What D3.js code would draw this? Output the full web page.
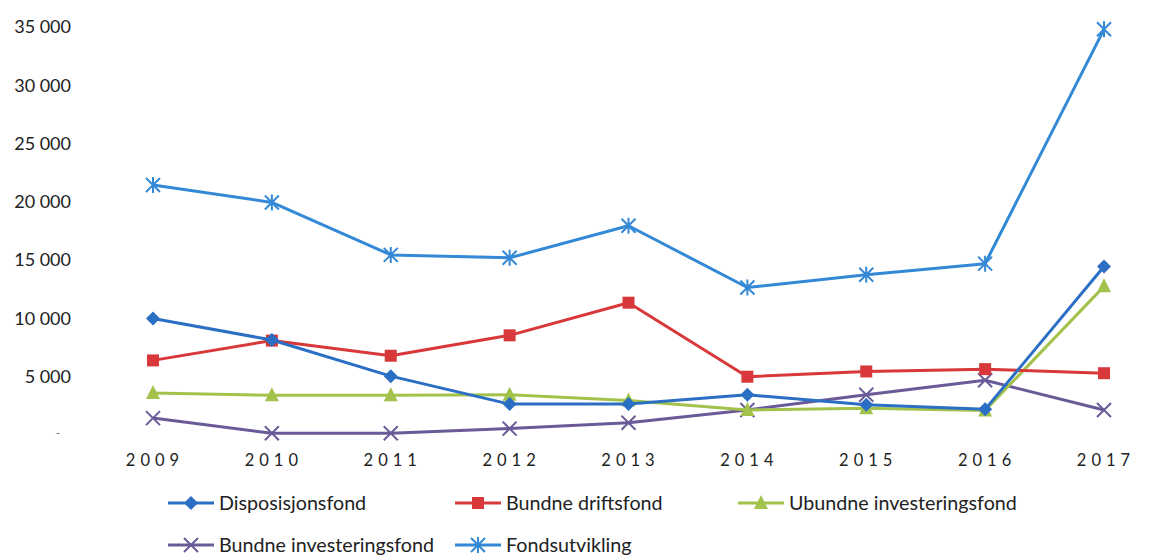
<!DOCTYPE html>
<html><head><meta charset="utf-8">
<script src="https://cdn.jsdelivr.net/npm/d3@7"></script>
<style>
body{margin:0;background:#fff;}
svg{display:block;}
</style></head>
<body>
<svg id="c" width="1149" height="555"></svg>
<script>
const years = ["2009","2010","2011","2012","2013","2014","2015","2016","2017"];
const yTicks = [0,5000,10000,15000,20000,25000,30000,35000];
const disposisjonsfond = [10000,8150,5050,2650,2650,3450,2600,2200,14450];
const bundneDriftsfond = [6400,8100,6800,8550,11350,5000,5450,5650,5300];
const ubundneInvesteringsfond = [3600,3400,3400,3450,2950,2150,2300,2100,12750];
const bundneInvesteringsfond = [1450,150,150,550,1050,2150,3450,4700,2150];
const fondsutvikling = [21450,19950,15450,15200,17950,12650,13750,14700,34800];
const seriesNames = ["Disposisjonsfond","Bundne driftsfond","Ubundne investeringsfond","Bundne investeringsfond","Fondsutvikling"];

const series = [
  {name:seriesNames[0], values:disposisjonsfond, color:"#2a6fc4", marker:"diamond"},
  {name:seriesNames[1], values:bundneDriftsfond, color:"#d9383a", marker:"square"},
  {name:seriesNames[2], values:ubundneInvesteringsfond, color:"#a3c24c", marker:"triangle"},
  {name:seriesNames[3], values:bundneInvesteringsfond, color:"#6a5a98", marker:"x"},
  {name:seriesNames[4], values:fondsutvikling, color:"#3389d6", marker:"star"}
];
const drawOrder = [4,3,2,1,0];

const svg = d3.select("#c");
const x = d3.scalePoint().domain(years).range([153,1104]);
const y = d3.scaleLinear().domain([0,35000]).range([435,27]);

// y labels
const fmt = v => d3.format(",")(v).replace(/,/g," ");
svg.append("g").selectAll("text").data(yTicks.filter(d=>d>0)).join("text")
  .attr("x",71).attr("y",d=>y(d)).attr("dy","0.35em").attr("text-anchor","end")
  .attr("font-family","Lato, 'Open Sans', sans-serif").attr("font-size",18).attr("fill","#222")
  .text(d=>fmt(d));
svg.append("text").attr("x",58).attr("y",y(0)+2).attr("text-anchor","middle")
  .attr("font-family","Lato, sans-serif").attr("font-size",12).attr("fill","#777").text("-");

// x labels
svg.append("g").selectAll("text").data(years).join("text")
  .attr("x",d=>x(d)+2).attr("y",466).attr("text-anchor","middle")
  .attr("font-family","Lato, 'Open Sans', sans-serif").attr("font-size",16.5).attr("fill","#222")
  .attr("letter-spacing","5px").text(d=>d);

function drawMarker(g, type, cx, cy, color){
  if(type==="diamond"){
    g.append("path").attr("d",`M${cx},${cy-7}L${cx+7},${cy}L${cx},${cy+7}L${cx-7},${cy}Z`).attr("fill",color);
  } else if(type==="square"){
    g.append("rect").attr("x",cx-6).attr("y",cy-6).attr("width",12).attr("height",12).attr("fill",color);
  } else if(type==="triangle"){
    g.append("path").attr("d",`M${cx},${cy-8}L${cx+7},${cy+6}L${cx-7},${cy+6}Z`).attr("fill",color);
  } else if(type==="x"){
    g.append("path").attr("d",`M${cx-7},${cy-7}L${cx+7},${cy+7}M${cx-7},${cy+7}L${cx+7},${cy-7}`)
      .attr("stroke",color).attr("stroke-width",2).attr("fill","none");
  } else if(type==="star"){
    g.append("path").attr("d",`M${cx-7},${cy-7}L${cx+7},${cy+7}M${cx-7},${cy+7}L${cx+7},${cy-7}M${cx},${cy-8}L${cx},${cy+8}`)
      .attr("stroke",color).attr("stroke-width",2).attr("fill","none");
  }
}

const line = d3.line().x((d,i)=>x(years[i])).y(d=>y(d));
drawOrder.forEach(k=>{
  const s = series[k];
  const g = svg.append("g");
  g.append("path").datum(s.values).attr("d",line).attr("fill","none")
    .attr("stroke",s.color).attr("stroke-width",3).attr("stroke-linejoin","round");
  s.values.forEach((v,i)=>drawMarker(g,s.marker,x(years[i]),y(v),s.color));
});

// legend
const legPos = [[168,503],[455,503],[738,503],[168,545],[455,545]];
series.forEach((s,i)=>{
  const [lx,ly] = legPos[i];
  const g = svg.append("g");
  g.append("line").attr("x1",lx).attr("x2",lx+46).attr("y1",ly).attr("y2",ly)
    .attr("stroke",s.color).attr("stroke-width",3);
  drawMarker(g,s.marker,lx+23,ly,s.color);
  g.append("text").attr("x",lx+51).attr("y",ly).attr("dy","0.35em")
    .attr("font-family","Lato, 'Open Sans', sans-serif").attr("font-size",19.7).attr("fill","#222")
    .text(s.name);
});
</script>
</body></html>
